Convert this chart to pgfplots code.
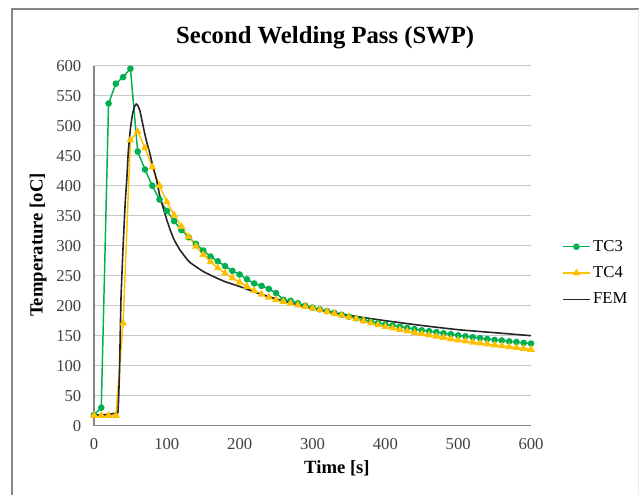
\documentclass[border=0pt]{standalone}
\usepackage{fontspec}
\setmainfont{Liberation Serif}
\usepackage{pgfplots}
\pgfplotsset{compat=1.18}
\definecolor{tcgreen}{RGB}{0,176,80}
\definecolor{tcgold}{RGB}{255,192,0}
\definecolor{femgray}{RGB}{38,38,38}
\definecolor{gridgray}{RGB}{200,200,200}
\definecolor{framegray}{RGB}{134,134,134}
\definecolor{ticktext}{RGB}{64,64,64}

\begin{document}
\begin{tikzpicture}
\useasboundingbox (0,0) rectangle (480pt,371.25pt);
\draw[framegray, line width=0.8pt] (9pt,0) -- (9pt,364.5pt) -- (479pt,364.5pt);
\draw[gray!15, line width=0.6pt] (479pt,364.5pt) -- (479pt,0);
\begin{axis}[
  scale only axis,
  width=327.75pt, height=270pt,
  at={(70.5pt,51.975pt)}, anchor=south west,
  xmin=0, xmax=600, ymin=0, ymax=600,
  xtick={0,100,...,600},
  ytick={0,50,...,600},
  axis x line*=bottom, axis y line*=left,
  every outer x axis line/.append style={-},
  every outer y axis line/.append style={-},
  axis line style={-, framegray, line width=0.8pt},
  major tick length=0pt,
  ymajorgrids=true,
  grid style={gridgray, line width=0.8pt},
  /pgf/number format/assume math mode=true,
  ticklabel style={font=\fontsize{12.5}{14}\selectfont, text=ticktext},
  yticklabel style={xshift=-6pt},
  xticklabel style={yshift=-6pt},
  title={Second Welding Pass (SWP)},
  title style={font=\fontsize{18.5}{21}\selectfont\bfseries,
    at={(axis description cs:0.529,1)}, anchor=center, yshift=15pt},
  xlabel={Time [s]},
  ylabel={Temperature [oC]},
  label style={font=\fontsize{14}{16}\selectfont\bfseries},
  xlabel style={at={(axis description cs:0.556,-0.1175)}, anchor=center},
  ylabel style={at={(axis description cs:-0.128,0.502)}, anchor=center},
  legend style={at={(axis description cs:1.071,0.424)}, anchor=west,
    draw=none, fill=none, font=\fontsize{12.5}{14}\selectfont,
    row sep=6pt, inner sep=0pt},
  legend cell align=left,
  legend image code/.code={\draw[mark repeat=2,mark phase=2,#1]
    plot coordinates {(0pt,0pt)(10pt,0pt)(20pt,0pt)};},
  clip=false,
]
% TC3 thermocouple
\addplot[color=tcgreen, line width=1.1pt, mark=*, mark size=1.9pt]
coordinates {
(0,18) (10,30) (20,537) (30,570) (40,581) (50,595) (60,457) (70,427) (80,400)
(90,377) (100,358) (110,341) (120,326) (130,314) (140,303) (150,292) (160,282)
(170,274) (180,266) (190,258) (200,252) (210,244) (220,237) (230,233) (240,228)
(250,221) (260,210) (270,208) (280,204) (290,200) (300,197) (310,194) (320,191)
(330,188) (340,185) (350,182) (360,179) (370,176) (380,173.5) (390,171) (400,169)
(410,167) (420,165) (430,163) (440,161) (450,159) (460,157.5) (470,156) (480,154)
(490,152.5) (500,150.5) (510,149) (520,147.5) (530,146) (540,144.5) (550,143)
(560,142) (570,140.5) (580,139.5) (590,138) (600,137)
};
% TC4 thermocouple
\addplot[color=tcgold, line width=1.1pt, mark=triangle*, mark size=2.3pt]
coordinates {
(0,17) (10,17) (20,17) (30,17) (40,171) (50,476) (60,490) (70,463) (80,431)
(90,400) (100,373) (110,351) (120,332) (130,315) (140,299) (150,285) (160,273)
(170,263) (180,254) (190,246) (200,239) (210,232) (220,225) (230,219) (240,214)
(250,210) (260,207) (270,204) (280,201) (290,198.5) (300,196) (310,193) (320,190)
(330,187) (340,184) (350,181) (360,178) (370,174.5) (380,171) (390,168) (400,165)
(410,162.5) (420,160) (430,157.5) (440,155) (450,153) (460,151) (470,149) (480,147)
(490,144.5) (500,142.5) (510,141) (520,139) (530,137.5) (540,136) (550,134.5)
(560,133) (570,131.5) (580,130) (590,128.5) (600,127)
};
% FEM simulation
\addplot[color=femgray, line width=1.2pt, no markers, smooth, tension=0.3]
coordinates {
(0,18) (10,18) (20,19) (30,21) (33,24) (35,90) (37,209) (40,300) (43,375)
(45,410) (47,455) (50,495) (53,520) (56,533) (58,536) (60,534) (63,525)
(66,508) (70,485) (73,470) (76,457) (80,437) (86,409) (90,385) (95,363)
(100,343) (105,325) (110,310) (118,293) (130,274) (140,265) (150,257)
(165,248) (180,240) (200,232) (220,223) (240,215) (260,208) (280,201)
(300,195) (330,188) (360,182) (400,175) (450,167) (500,160) (550,155) (600,150)
};
\legend{TC3, TC4, FEM}
\end{axis}
\end{tikzpicture}
\end{document}
